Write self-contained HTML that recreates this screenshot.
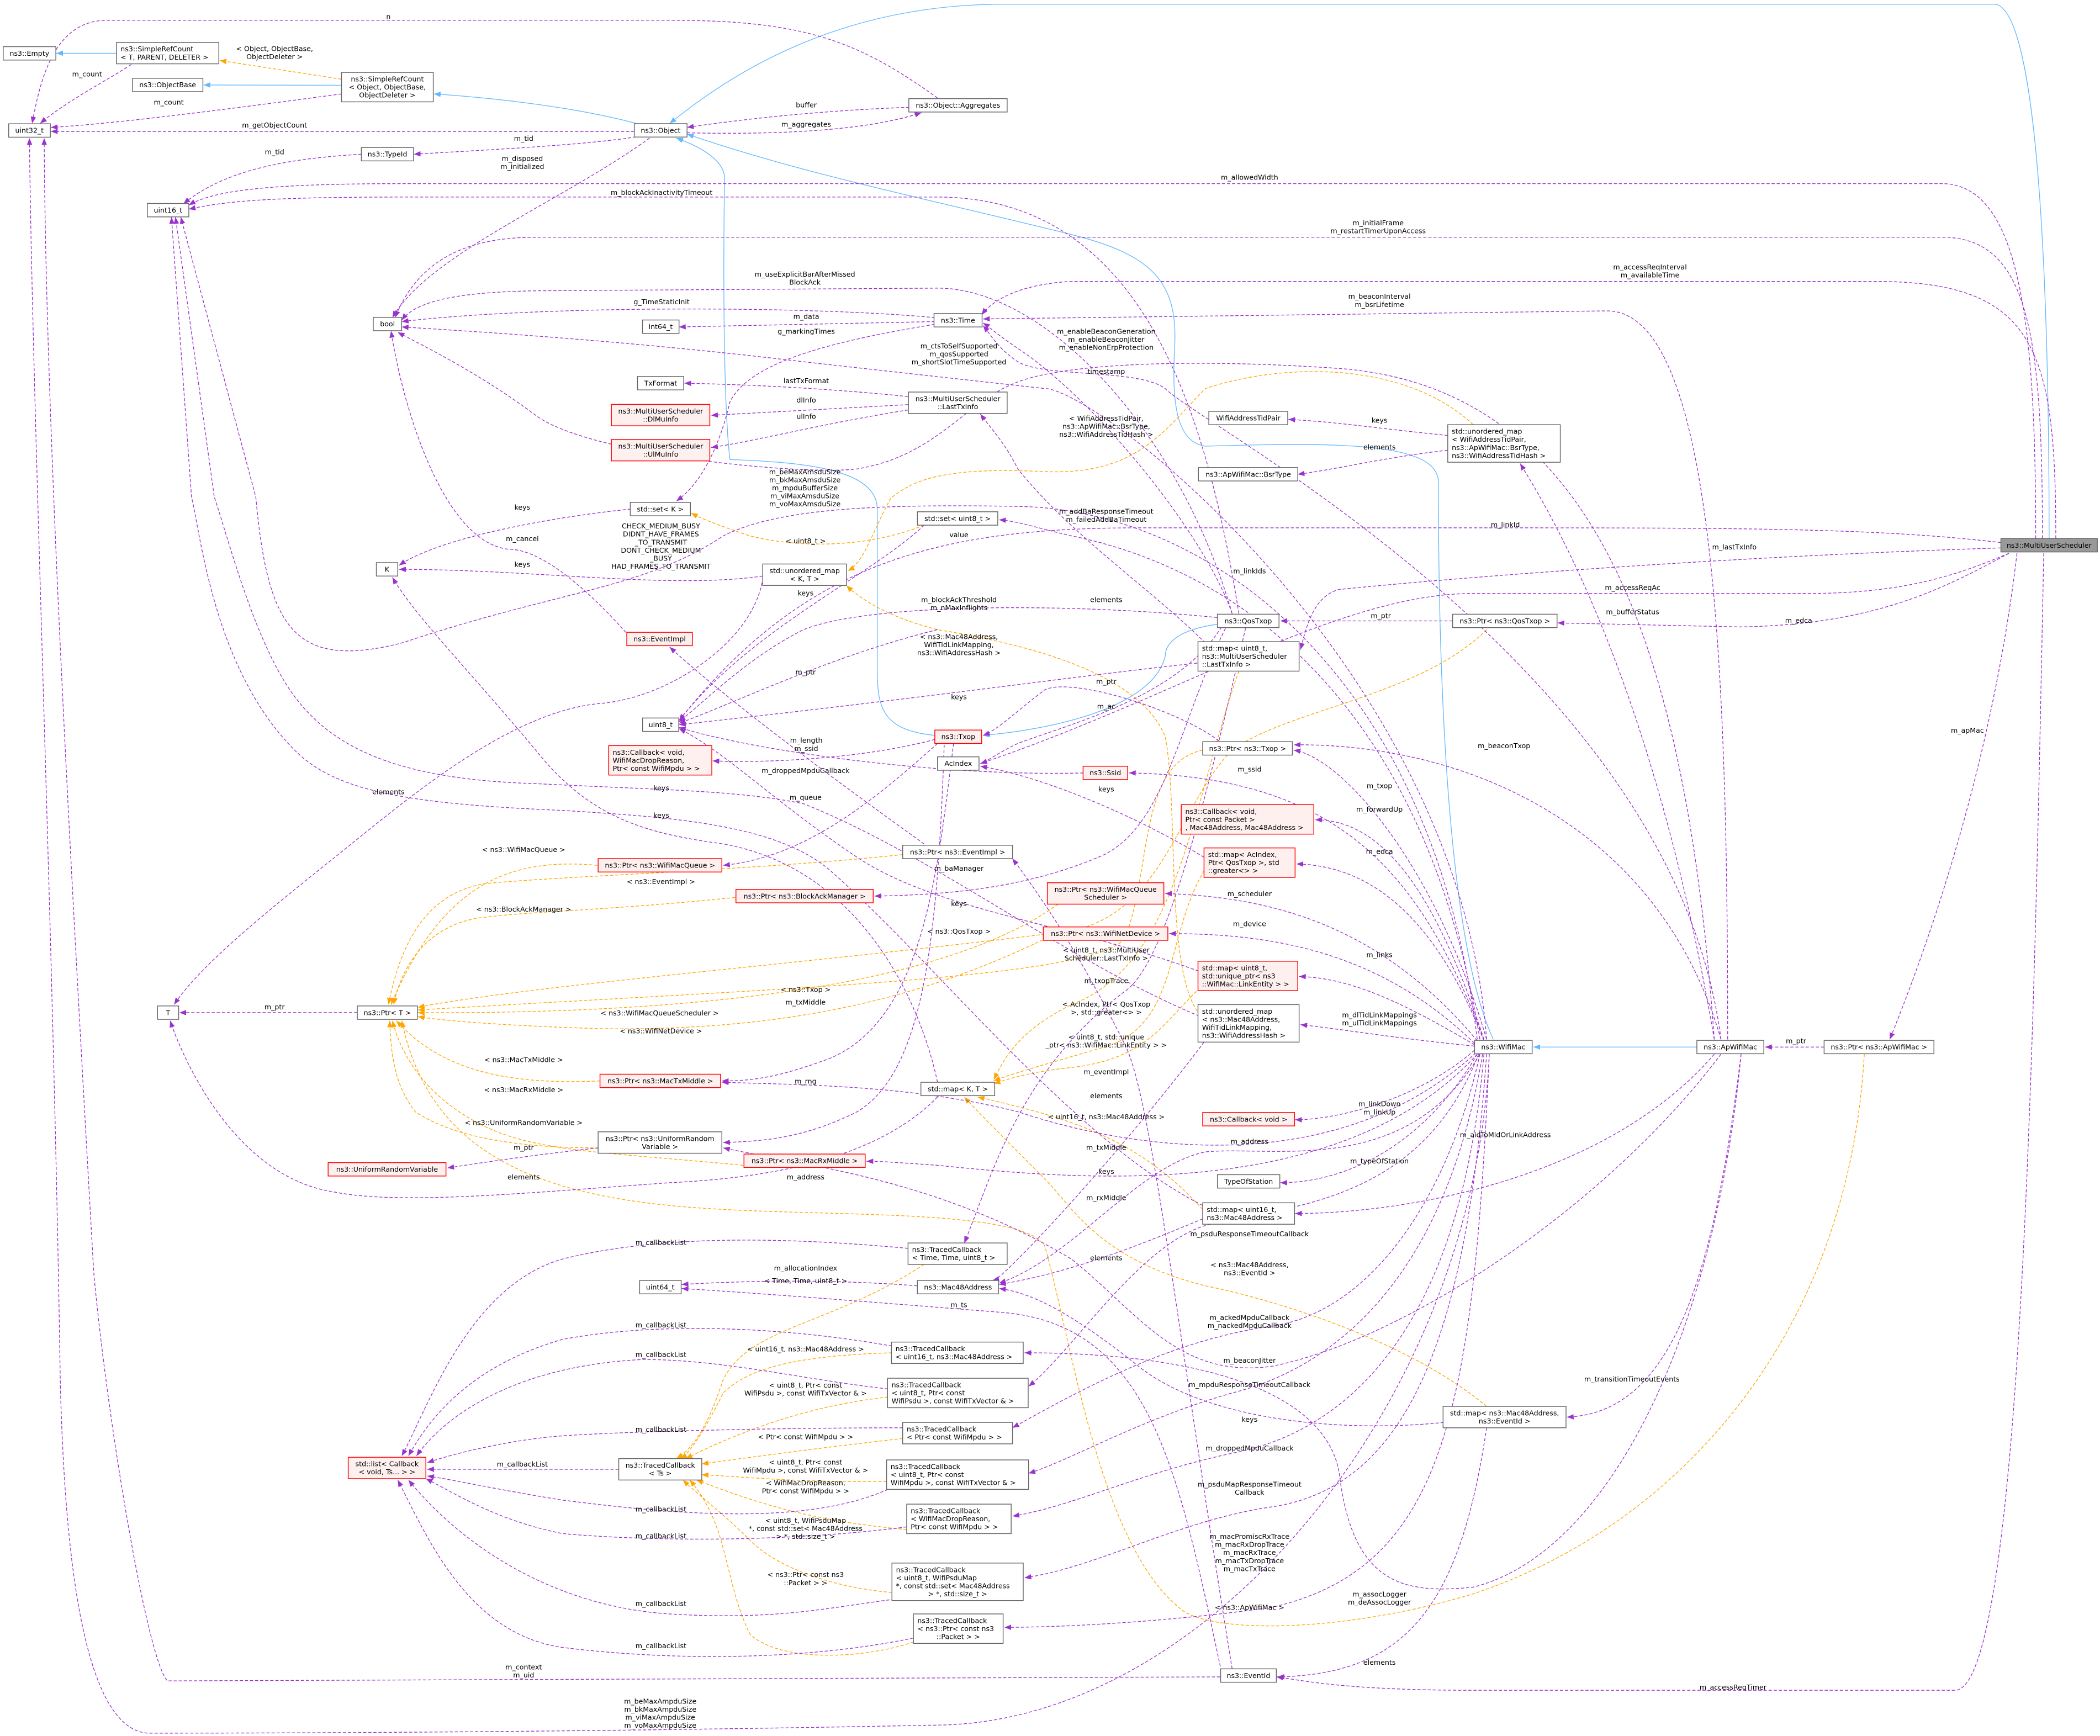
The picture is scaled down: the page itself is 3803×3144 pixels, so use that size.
<!DOCTYPE html>
<html><head><meta charset="utf-8"><style>
html,body{margin:0;padding:0;background:#fff;}
svg{display:block;}
text{font-family:"DejaVu Sans","Liberation Sans",sans-serif;font-size:5.2px;fill:#000;}
.n rect{fill:#fff;stroke:#666;stroke-width:.6;}
.r rect{fill:#fff0f0;stroke:#f00;stroke-width:.6;}
.g rect{fill:#999;stroke:#666;stroke-width:.6;}
.c{text-anchor:middle;}
.p{fill:none;stroke:#9a32cd;stroke-width:.55;stroke-dasharray:2.4,1.4;marker-end:url(#mp);}
.o{fill:none;stroke:#ffa500;stroke-width:.55;stroke-dasharray:2.4,1.4;marker-end:url(#mo);}
.b{fill:none;stroke:#63b8ff;stroke-width:.55;marker-end:url(#mb);}
</style></head><body>
<svg width="3803" height="3144" viewBox="0 0 1568 1296" xmlns="http://www.w3.org/2000/svg">
<defs>
<marker id="mp" markerWidth="5" markerHeight="4" refX="5" refY="2" orient="auto" markerUnits="userSpaceOnUse"><path d="M0,0L5,2L0,4z" fill="#9a32cd"/></marker>
<marker id="mo" markerWidth="5" markerHeight="4" refX="5" refY="2" orient="auto" markerUnits="userSpaceOnUse"><path d="M0,0L5,2L0,4z" fill="#ffa500"/></marker>
<marker id="mb" markerWidth="5" markerHeight="4" refX="5" refY="2" orient="auto" markerUnits="userSpaceOnUse"><path d="M0,0L5,2L0,4z" fill="#63b8ff"/></marker>
</defs>

<path class="b" d="M87,39.6 L42,39.6"/>
<path class="b" d="M255,63.5 L152,63.3"/>
<path class="b" d="M475,92 C430,80 370,73 324,70"/>
<path class="b" d="M1530,402 C1530,300 1528,10 1490,3 L750,3 C620,3 540,60 500,92"/>
<path class="b" d="M1115,776 C1080,700 1074,500 1074,360 C1074,330 1000,330 900,333 C878,330 875,300 877,260 C880,210 860,190 800,175 C700,150 600,130 513,100"/>
<path class="b" d="M698,549 C660,545 655,530 655,500 L655,380 C655,350 600,345 545,343 C540,300 540,200 541,132 C540,120 525,110 505,103"/>
<path class="b" d="M909,466 C880,470 870,480 870,490 C860,530 780,545 734,549"/>
<path class="b" d="M1267,781.7 L1145,781.7"/>

<path class="o" d="M255,59 L164,45"/>
<path class="o" d="M1100,317 C1050,270 960,270 900,290 C870,320 850,355 780,352 C700,348 680,360 665,372 C650,400 645,420 633,426"/>
<path class="o" d="M690,392 C650,408 600,410 560,400 C530,390 522,386 516,383"/>
<path class="o" d="M446,646 C380,640 330,660 292,750"/>
<path class="o" d="M674,638 C560,650 400,655 360,660 C320,668 300,700 290,750"/>
<path class="o" d="M549,670 C450,680 400,680 360,685 C320,690 300,720 294,750"/>
<path class="o" d="M1110,470 C1060,520 960,530 920,560 C880,600 870,680 800,695 C600,720 400,735 312,752"/>
<path class="o" d="M898,560 C850,570 860,650 840,700 C820,730 600,737 312,754"/>
<path class="o" d="M790,675 C700,740 500,757 312,756"/>
<path class="o" d="M782,700 C700,740 600,770 450,768 C380,766 330,762 312,759"/>
<path class="o" d="M448,807 C380,810 330,800 296,762"/>
<path class="o" d="M555,870 C450,860 400,860 360,840 C320,820 300,790 293,762"/>
<path class="o" d="M447,857 C390,857 340,850 310,830 C295,810 292,790 291,762"/>
<path class="o" d="M1392,787 C1380,1000 1250,1140 1100,1190 C1000,1220 900,1220 880,1200 C820,1150 800,1000 780,930 C760,900 600,910 500,900 C400,890 320,860 300,762"/>
<path class="o" d="M925,501 C890,600 880,720 800,750 C760,770 750,790 742,806"/>
<path class="o" d="M899,650 C870,700 880,760 830,780 C780,795 760,800 742,807"/>
<path class="o" d="M899,735 C870,760 860,790 800,797 C770,800 755,805 742,809"/>
<path class="o" d="M898,903 C850,850 800,835 730,819"/>
<path class="o" d="M1110,1050 C1050,1000 950,970 900,960 C820,940 800,900 780,880 C750,850 730,830 720,819"/>
<path class="o" d="M894,755 C870,720 880,600 870,550 C850,500 760,480 700,470 C660,460 640,445 632,437"/>
<path class="o" d="M690,944 C620,990 560,990 540,1030 C530,1060 520,1080 505,1089"/>
<path class="o" d="M666,1010 C600,1012 560,1020 540,1040 C525,1070 515,1085 508,1089"/>
<path class="o" d="M663,1043 C600,1050 550,1070 512,1089"/>
<path class="o" d="M674,1074 C620,1080 560,1088 524,1093"/>
<path class="o" d="M662,1106 C600,1107 560,1103 524,1101"/>
<path class="o" d="M677,1142 C600,1135 560,1120 520,1105"/>
<path class="o" d="M666,1189 C620,1185 580,1170 560,1150 C540,1130 520,1115 510,1105"/>
<path class="o" d="M682,1226 C640,1240 580,1240 560,1220 C540,1180 545,1140 515,1105"/>

<path class="p" d="M700,73 C640,30 600,15 500,15 L80,15 C40,15 30,60 24,92"/>
<path class="p" d="M98,48 C80,60 50,75 30,92"/>
<path class="p" d="M255,70 C180,80 90,92 38,95"/>
<path class="p" d="M473.6,98 L38,98"/>
<path class="p" d="M475,102 C440,108 360,112 309,115"/>
<path class="p" d="M270,115 C220,118 170,125 137,152"/>
<path class="p" d="M485,103 C420,150 320,190 293,237"/>
<path class="p" d="M513,99 C560,100 640,100 688,84"/>
<path class="p" d="M679,80 C620,82 560,88 513,95"/>
<path class="p" d="M1520,402 C1520,250 1510,137 1450,137 L300,137 C200,137 160,142 141,153"/>
<path class="p" d="M925,458 C900,300 850,147 700,147 L300,147 C200,147 170,150 141,156"/>
<path class="p" d="M1525,402 C1525,250 1515,177 1450,177 L400,177 C340,177 310,200 295,237"/>
<path class="p" d="M1535,402 C1535,260 1520,210 1400,210 L800,210 C760,212 740,225 733,235"/>
<path class="p" d="M1290,776 C1290,500 1280,232 1200,232 L734,238"/>
<path class="p" d="M698,237 C600,228 400,228 300,240"/>
<path class="p" d="M698,240 L507,244"/>
<path class="p" d="M698,242 C620,255 560,270 545,300 C538,330 525,360 505,374"/>
<path class="p" d="M920,458 C880,320 780,215 700,215 L400,217 C340,218 310,225 300,239"/>
<path class="p" d="M1110,776 C1090,500 820,290 780,290 L600,270 C500,258 400,250 300,244"/>
<path class="p" d="M1280,776 C1260,500 1200,290 1000,275 C900,268 800,270 760,285 C720,300 700,340 640,350 C600,355 440,340 400,310 C360,280 320,260 297,248"/>
<path class="p" d="M1285,776 C1250,500 900,320 870,290 C850,275 780,282 760,270 C745,260 740,250 734,243"/>
<path class="p" d="M678,296 C620,290 560,287 511,286"/>
<path class="p" d="M678,302 L531,310"/>
<path class="p" d="M678,306 C620,315 560,330 531,334"/>
<path class="p" d="M900,480 C860,440 800,400 760,350 C750,330 740,320 732,309"/>
<path class="p" d="M1494,409 C1300,415 1100,430 1000,440 C980,445 975,470 971,485"/>
<path class="p" d="M1494,405 C1400,394 1300,394 1100,394 L850,394 C700,394 600,420 507,538"/>
<path class="p" d="M1500,413 C1460,430 1420,443 1350,443 L1100,443 C1000,443 880,520 732,570"/>
<path class="p" d="M1500,413 C1450,440 1400,466 1300,468 L1163,465"/>
<path class="p" d="M1506,413 C1490,550 1450,680 1411,776"/>
<path class="p" d="M1526,413 C1520,700 1512,1260 1460,1262 L1100,1262 C1000,1262 970,1254 953,1252"/>
<path class="p" d="M1280,776 C1250,600 1200,450 1135,346"/>
<path class="p" d="M1081,325 C1030,320 1000,315 962,313"/>
<path class="p" d="M1081,336 C1030,342 1000,350 969,354"/>
<path class="p" d="M920,458 C900,400 820,300 760,260 C745,250 740,245 734,241"/>
<path class="p" d="M1105,776 C1060,500 900,420 800,400 C770,393 760,389 746,388"/>
<path class="p" d="M1084.6,463.5 L956,463.5"/>
<path class="p" d="M894,495 C800,505 700,520 507,541"/>
<path class="p" d="M690,392 C650,430 560,470 507,538"/>
<path class="p" d="M909,461 C800,450 650,450 600,470 C560,490 530,520 507,539"/>
<path class="p" d="M910,553 C880,530 800,505 780,515 C760,530 745,545 734,549"/>
<path class="p" d="M912,468 C880,520 800,540 760,555 C745,562 738,568 732,570"/>
<path class="p" d="M700,470 C620,490 560,520 507,540"/>
<path class="p" d="M809,577 C700,580 560,560 507,543"/>
<path class="p" d="M698,552 C650,565 580,570 532,568"/>
<path class="p" d="M700,555 C650,600 600,640 540,646"/>
<path class="p" d="M1108,776 C1060,650 1000,580 843,577"/>
<path class="p" d="M1110,776 C1070,640 1000,565 966,560"/>
<path class="p" d="M1285,776 C1240,620 1100,555 966,556"/>
<path class="p" d="M1108,776 C1070,660 1030,612 982,612"/>
<path class="p" d="M1108,777 C1070,680 1020,646 968,645"/>
<path class="p" d="M899,640 C850,610 780,580 732,572"/>
<path class="p" d="M1103,777 C1030,690 950,670 870,667"/>
<path class="p" d="M1101,779 C1030,710 950,697 873,697"/>
<path class="p" d="M1101,780 C1050,750 1010,730 970,729"/>
<path class="p" d="M1101,781 C1040,775 1000,768 971,765"/>
<path class="p" d="M1101,784 C1060,820 1000,836 967,836"/>
<path class="p" d="M1103,787 C1060,860 1000,883 956,883"/>
<path class="p" d="M1280,787 C1200,880 1050,906 967,906"/>
<path class="p" d="M1105,787 C1050,880 950,855 900,860 C850,870 800,940 746,958"/>
<path class="p" d="M690,630 C620,580 540,520 500,483"/>
<path class="p" d="M470,475 C430,430 400,410 380,410 C330,405 300,300 292,247"/>
<path class="p" d="M471,380 C420,385 330,400 298,422"/>
<path class="p" d="M569.5,430 C500,440 400,425 298,425"/>
<path class="p" d="M569,435 C560,480 500,520 450,525 C380,530 300,600 250,640 C200,680 150,720 130,750"/>
<path class="p" d="M700,808 C690,760 650,650 540,630 C480,622 440,610 400,560 C350,500 310,460 293,431"/>
<path class="p" d="M700,819 C650,870 560,880 500,883 C400,890 300,900 250,890 C180,880 140,800 127,762"/>
<path class="p" d="M266.8,756 L134,756"/>
<path class="p" d="M447,857 C400,862 360,868 334,872"/>
<path class="p" d="M915,469 C880,540 870,620 820,640 C760,665 700,668 653,669"/>
<path class="p" d="M712,555 C700,650 690,760 620,790 C580,805 560,807 539,807"/>
<path class="p" d="M705,556 C700,700 690,800 640,830 C600,850 570,852 540,853"/>
<path class="p" d="M1102,786 C1000,880 850,860 760,830 C680,810 600,810 539,808"/>
<path class="p" d="M1103,787 C1000,900 800,880 700,870 C670,868 660,867 647,867"/>
<path class="p" d="M920,1246 C880,1000 860,820 840,780 C800,700 770,660 756,641"/>
<path class="p" d="M930,469 C900,600 870,720 840,740 C760,800 740,880 720,928"/>
<path class="p" d="M898,910 C850,930 800,950 746,959"/>
<path class="p" d="M899,778 C860,830 800,900 760,940 C750,950 745,955 741,956"/>
<path class="p" d="M1078,1062 C1000,1070 900,1060 850,1020 C800,980 770,965 746,962"/>
<path class="p" d="M1110,1066 C1090,1200 1050,1250 954,1252"/>
<path class="p" d="M1300,787 C1280,950 1250,1055 1170,1058"/>
<path class="p" d="M912,1248 C880,1100 860,990 750,980 C650,972 560,965 509,962"/>
<path class="p" d="M685,960 C620,955 560,956 509,959"/>
<path class="p" d="M911,1252 L125,1255 C110,1240 80,1060 70,950 C50,600 34,300 33,103"/>
<path class="p" d="M1112,787 C1100,1050 900,1286 700,1288 C500,1292 300,1294 110,1294 C60,1290 48,1150 45,1031 C40,700 24,300 22,103"/>
<path class="p" d="M898,900 C800,850 700,720 620,650 C580,615 500,610 420,605 C300,600 250,590 220,560 C160,500 150,400 143,371 L128,162"/>
<path class="p" d="M899,760 C800,720 700,640 600,600 C550,590 500,590 400,585 C300,582 250,560 220,520 C190,480 170,400 160,371 L131,162"/>
<path class="p" d="M1103,776 C1070,500 900,380 760,378 C650,376 580,380 540,400 C480,440 420,440 300,480 C220,500 200,470 191,371 L135,162"/>
<path class="p" d="M895,725 C800,690 700,680 640,640 C580,600 540,560 507,544"/>
<path class="p" d="M678,932 C600,925 500,920 420,940 C350,960 320,1050 300,1087"/>
<path class="p" d="M666,1005 C600,993 500,985 420,1000 C350,1020 320,1060 305,1087"/>
<path class="p" d="M663,1037 C600,1030 540,1015 480,1015 C380,1020 330,1060 311,1087"/>
<path class="p" d="M674,1066 C600,1066 480,1068 420,1072 C380,1075 340,1085 319,1092"/>
<path class="p" d="M462,1097 L319,1097"/>
<path class="p" d="M663,1112 C600,1140 500,1130 420,1120 C370,1112 340,1105 319,1102"/>
<path class="p" d="M677,1140 C600,1150 500,1152 420,1145 C370,1135 340,1115 318,1104"/>
<path class="p" d="M668,1194 C620,1200 580,1210 500,1205 C420,1200 350,1160 305,1105"/>
<path class="p" d="M682,1223 C600,1240 500,1240 420,1230 C350,1220 320,1150 297,1105"/>
<path class="p" d="M1104,787 C1060,900 960,900 900,915 C850,930 800,1010 768,1035"/>
<path class="p" d="M1105,787 C1080,900 1020,980 950,990 C880,1000 820,1030 756,1066"/>
<path class="p" d="M1285,787 C1200,900 1050,1000 950,1020 C880,1030 850,980 800,940 C700,880 600,870 540,857"/>
<path class="p" d="M1107,787 C1080,950 1000,1020 920,1040 C850,1060 800,1090 768,1100"/>
<path class="p" d="M1108,787 C1090,1000 1000,1070 920,1085 C850,1100 800,1125 756,1132"/>
<path class="p" d="M1110,787 C1095,1000 1050,1110 950,1125 C880,1135 820,1170 765,1178"/>
<path class="p" d="M1112,787 C1100,1050 1080,1170 950,1200 C880,1210 800,1215 750,1215"/>
<path class="p" d="M1300,787 C1280,1000 1200,1160 1100,1185 C1050,1190 1010,1185 1000,1100 C990,1040 900,1010 765,1010"/>
<path class="p" d="M1362,781.7 L1318,781.7"/>

<g class="n"><rect x="2.4" y="34.7" width="39.3" height="10"/><text class="c" x="22" y="41.5">ns3::Empty</text></g>
<g class="n"><rect x="87" y="31.5" width="76.4" height="16"/><text x="90" y="38.3">ns3::SimpleRefCount</text><text x="90" y="44.3">&lt; T, PARENT, DELETER &gt;</text></g>
<g class="n"><rect x="99" y="58.3" width="52.5" height="10"/><text class="c" x="125.2" y="65.1">ns3::ObjectBase</text></g>
<g class="n"><rect x="255" y="53.9" width="68.5" height="22"/><text class="c" x="289.2" y="60.7">ns3::SimpleRefCount</text><text class="c" x="289.2" y="66.7">&lt; Object, ObjectBase,</text><text class="c" x="289.2" y="72.7">ObjectDeleter &gt;</text></g>
<g class="n"><rect x="6.5" y="92.3" width="31.1" height="10"/><text class="c" x="22" y="99.1">uint32_t</text></g>
<g class="n"><rect x="473.6" y="92.2" width="39.4" height="10"/><text class="c" x="493.3" y="99">ns3::Object</text></g>
<g class="n"><rect x="678.6" y="73.5" width="73.4" height="10"/><text class="c" x="715.3" y="80.3">ns3::Object::Aggregates</text></g>
<g class="n"><rect x="269.8" y="110" width="39" height="10"/><text class="c" x="289.3" y="116.8">ns3::TypeId</text></g>
<g class="n"><rect x="110" y="151.8" width="31" height="10"/><text class="c" x="125.5" y="158.6">uint16_t</text></g>
<g class="n"><rect x="278.7" y="236.8" width="21.2" height="10"/><text class="c" x="289.3" y="243.6">bool</text></g>
<g class="n"><rect x="479.7" y="238.8" width="27.3" height="10"/><text class="c" x="493.3" y="245.6">int64_t</text></g>
<g class="n"><rect x="697.4" y="234" width="35.9" height="10"/><text class="c" x="715.3" y="240.8">ns3::Time</text></g>
<g class="n"><rect x="476" y="281" width="34.5" height="10"/><text class="c" x="493.3" y="287.8">TxFormat</text></g>
<g class="r"><rect x="456.5" y="301.8" width="73.5" height="16"/><text class="c" x="493.3" y="308.6">ns3::MultiUserScheduler</text><text class="c" x="493.3" y="314.6">::DlMuInfo</text></g>
<g class="r"><rect x="456.5" y="328" width="73.5" height="16"/><text class="c" x="493.3" y="334.8">ns3::MultiUserScheduler</text><text class="c" x="493.3" y="340.8">::UlMuInfo</text></g>
<g class="n"><rect x="678.3" y="292.6" width="73.7" height="16"/><text class="c" x="715.2" y="299.4">ns3::MultiUserScheduler</text><text class="c" x="715.2" y="305.4">::LastTxInfo</text></g>
<g class="n"><rect x="902.6" y="307" width="58.9" height="10"/><text class="c" x="932" y="313.8">WifiAddressTidPair</text></g>
<g class="n"><rect x="1081" y="317" width="84" height="28"/><text x="1084" y="323.8">std::unordered_map</text><text x="1084" y="329.8">&lt; WifiAddressTidPair,</text><text x="1084" y="335.8">ns3::ApWifiMac::BsrType,</text><text x="1084" y="341.8">ns3::WifiAddressTidHash &gt;</text></g>
<g class="n"><rect x="894.8" y="349" width="74.2" height="10"/><text class="c" x="932" y="355.8">ns3::ApWifiMac::BsrType</text></g>
<g class="n"><rect x="470.6" y="375" width="44.9" height="10"/><text class="c" x="493" y="381.8">std::set&lt; K &gt;</text></g>
<g class="n"><rect x="281" y="420" width="16" height="10"/><text class="c" x="289" y="426.8">K</text></g>
<g class="n"><rect x="569.5" y="421" width="62.5" height="16"/><text class="c" x="600.8" y="427.8">std::unordered_map</text><text class="c" x="600.8" y="433.8">&lt; K, T &gt;</text></g>
<g class="n"><rect x="685" y="382" width="60" height="10"/><text class="c" x="715" y="388.8">std::set&lt; uint8_t &gt;</text></g>
<g class="g"><rect x="1494" y="402" width="72" height="10"/><text class="c" x="1530" y="408.8">ns3::MultiUserScheduler</text></g>
<g class="n"><rect x="909" y="458.5" width="46" height="10"/><text class="c" x="932" y="465.3">ns3::QosTxop</text></g>
<g class="n"><rect x="1084.6" y="458.5" width="78" height="10"/><text class="c" x="1123.6" y="465.3">ns3::Ptr&lt; ns3::QosTxop &gt;</text></g>
<g class="n"><rect x="894.5" y="479" width="75.5" height="22"/><text x="897.5" y="485.8">std::map&lt; uint8_t,</text><text x="897.5" y="491.8">ns3::MultiUserScheduler</text><text x="897.5" y="497.8">::LastTxInfo &gt;</text></g>
<g class="r"><rect x="468" y="472" width="49" height="10"/><text class="c" x="492.5" y="478.8">ns3::EventImpl</text></g>
<g class="n"><rect x="479.8" y="536" width="27" height="10"/><text class="c" x="493.3" y="542.8">uint8_t</text></g>
<g class="r"><rect x="698" y="545" width="35" height="10"/><text class="c" x="715.5" y="551.8">ns3::Txop</text></g>
<g class="r"><rect x="454.5" y="556.6" width="77" height="22"/><text x="457.5" y="563.4">ns3::Callback&lt; void,</text><text x="457.5" y="569.4">WifiMacDropReason,</text><text x="457.5" y="575.4">Ptr&lt; const WifiMpdu &gt; &gt;</text></g>
<g class="n"><rect x="700" y="565" width="31" height="10"/><text class="c" x="715.5" y="571.8">AcIndex</text></g>
<g class="r"><rect x="808.7" y="572" width="33.3" height="10"/><text class="c" x="825.3" y="578.8">ns3::Ssid</text></g>
<g class="n"><rect x="898" y="553.7" width="67" height="10"/><text class="c" x="931.5" y="560.5">ns3::Ptr&lt; ns3::Txop &gt;</text></g>
<g class="r"><rect x="882" y="600.7" width="99" height="22"/><text x="885" y="607.5">ns3::Callback&lt; void,</text><text x="885" y="613.5">Ptr&lt; const Packet &gt;</text><text x="885" y="619.5">, Mac48Address, Mac48Address &gt;</text></g>
<g class="n"><rect x="674" y="631" width="82" height="10"/><text class="c" x="715" y="637.8">ns3::Ptr&lt; ns3::EventImpl &gt;</text></g>
<g class="r"><rect x="446.6" y="641" width="92.4" height="10"/><text class="c" x="492.8" y="647.8">ns3::Ptr&lt; ns3::WifiMacQueue &gt;</text></g>
<g class="r"><rect x="899" y="633" width="68" height="22"/><text x="902" y="639.8">std::map&lt; AcIndex,</text><text x="902" y="645.8">Ptr&lt; QosTxop &gt;, std</text><text x="902" y="651.8">::greater&lt;&gt; &gt;</text></g>
<g class="r"><rect x="782" y="659" width="87" height="16"/><text class="c" x="825.5" y="665.8">ns3::Ptr&lt; ns3::WifiMacQueue</text><text class="c" x="825.5" y="671.8">Scheduler &gt;</text></g>
<g class="r"><rect x="549.5" y="664" width="102.5" height="10"/><text class="c" x="600.8" y="670.8">ns3::Ptr&lt; ns3::BlockAckManager &gt;</text></g>
<g class="r"><rect x="779" y="692" width="93" height="10"/><text class="c" x="825.5" y="698.8">ns3::Ptr&lt; ns3::WifiNetDevice &gt;</text></g>
<g class="r"><rect x="894.5" y="717.6" width="74.5" height="22"/><text x="897.5" y="724.4">std::map&lt; uint8_t,</text><text x="897.5" y="730.4">std::unique_ptr&lt; ns3</text><text x="897.5" y="736.4">::WifiMac::LinkEntity &gt; &gt;</text></g>
<g class="n"><rect x="894.5" y="750" width="75.5" height="28"/><text x="897.5" y="756.8">std::unordered_map</text><text x="897.5" y="762.8">&lt; ns3::Mac48Address,</text><text x="897.5" y="768.8">WifiTidLinkMapping,</text><text x="897.5" y="774.8">ns3::WifiAddressHash &gt;</text></g>
<g class="n"><rect x="117.6" y="751" width="15.8" height="10"/><text class="c" x="125.5" y="757.8">T</text></g>
<g class="n"><rect x="266.8" y="751" width="44.8" height="10"/><text class="c" x="289.2" y="757.8">ns3::Ptr&lt; T &gt;</text></g>
<g class="n"><rect x="1101" y="776.7" width="43" height="10"/><text class="c" x="1122.5" y="783.5">ns3::WifiMac</text></g>
<g class="n"><rect x="1267" y="776.7" width="50" height="10"/><text class="c" x="1292" y="783.5">ns3::ApWifiMac</text></g>
<g class="n"><rect x="1362" y="776.7" width="82" height="10"/><text class="c" x="1403" y="783.5">ns3::Ptr&lt; ns3::ApWifiMac &gt;</text></g>
<g class="r"><rect x="448" y="802" width="90" height="10"/><text class="c" x="493" y="808.8">ns3::Ptr&lt; ns3::MacTxMiddle &gt;</text></g>
<g class="n"><rect x="687.6" y="808" width="55.1" height="10"/><text class="c" x="715.2" y="814.8">std::map&lt; K, T &gt;</text></g>
<g class="r"><rect x="898" y="830.6" width="68.6" height="10"/><text class="c" x="932.3" y="837.4">ns3::Callback&lt; void &gt;</text></g>
<g class="n"><rect x="446.6" y="845" width="92.4" height="16"/><text class="c" x="492.8" y="851.8">ns3::Ptr&lt; ns3::UniformRandom</text><text class="c" x="492.8" y="857.8">Variable &gt;</text></g>
<g class="r"><rect x="555.5" y="861.6" width="90.5" height="10"/><text class="c" x="600.8" y="868.4">ns3::Ptr&lt; ns3::MacRxMiddle &gt;</text></g>
<g class="r"><rect x="245" y="868" width="88" height="10"/><text class="c" x="289" y="874.8">ns3::UniformRandomVariable</text></g>
<g class="n"><rect x="909" y="877" width="46.6" height="10"/><text class="c" x="932.3" y="883.8">TypeOfStation</text></g>
<g class="n"><rect x="898" y="898" width="68.6" height="16"/><text x="901" y="904.8">std::map&lt; uint16_t,</text><text x="901" y="910.8">ns3::Mac48Address &gt;</text></g>
<g class="n"><rect x="678" y="928" width="74" height="16"/><text x="681" y="934.8">ns3::TracedCallback</text><text x="681" y="940.8">&lt; Time, Time, uint8_t &gt;</text></g>
<g class="n"><rect x="477.6" y="956" width="31" height="10"/><text class="c" x="493" y="962.8">uint64_t</text></g>
<g class="n"><rect x="685" y="956" width="60.5" height="10"/><text class="c" x="715.3" y="962.8">ns3::Mac48Address</text></g>
<g class="n"><rect x="665.6" y="1002" width="98.4" height="16"/><text x="668.6" y="1008.8">ns3::TracedCallback</text><text x="668.6" y="1014.8">&lt; uint16_t, ns3::Mac48Address &gt;</text></g>
<g class="n"><rect x="662.7" y="1029" width="105" height="22"/><text x="665.7" y="1035.8">ns3::TracedCallback</text><text x="665.7" y="1041.8">&lt; uint8_t, Ptr&lt; const</text><text x="665.7" y="1047.8"> WifiPsdu &gt;, const WifiTxVector &amp; &gt;</text></g>
<g class="n"><rect x="1077.5" y="1050" width="91.8" height="16"/><text class="c" x="1123.4" y="1056.8">std::map&lt; ns3::Mac48Address,</text><text class="c" x="1123.4" y="1062.8">ns3::EventId &gt;</text></g>
<g class="n"><rect x="674" y="1062" width="82" height="16"/><text x="677" y="1068.8">ns3::TracedCallback</text><text x="677" y="1074.8">&lt; Ptr&lt; const WifiMpdu &gt; &gt;</text></g>
<g class="n"><rect x="462" y="1089" width="62" height="16"/><text class="c" x="493" y="1095.8">ns3::TracedCallback</text><text class="c" x="493" y="1101.8">&lt; Ts &gt;</text></g>
<g class="r"><rect x="260" y="1088" width="58" height="16"/><text class="c" x="289" y="1094.8">std::list&lt; Callback</text><text class="c" x="289" y="1100.8">&lt; void, Ts... &gt; &gt;</text></g>
<g class="n"><rect x="662" y="1090" width="106" height="22"/><text x="665" y="1096.8">ns3::TracedCallback</text><text x="665" y="1102.8">&lt; uint8_t, Ptr&lt; const</text><text x="665" y="1108.8"> WifiMpdu &gt;, const WifiTxVector &amp; &gt;</text></g>
<g class="n"><rect x="677" y="1123" width="78" height="22"/><text x="680" y="1129.8">ns3::TracedCallback</text><text x="680" y="1135.8">&lt; WifiMacDropReason,</text><text x="680" y="1141.8"> Ptr&lt; const WifiMpdu &gt; &gt;</text></g>
<g class="n"><rect x="666" y="1167" width="98" height="28"/><text x="669" y="1173.8">ns3::TracedCallback</text><text x="669" y="1179.8">&lt; uint8_t, WifiPsduMap</text><text x="669" y="1185.8"> *, const std::set&lt; Mac48Address</text><text class="c" x="715" y="1191.8">&gt; *, std::size_t &gt;</text></g>
<g class="n"><rect x="682" y="1205" width="67" height="22"/><text x="685" y="1211.8">ns3::TracedCallback</text><text x="685" y="1217.8">&lt; ns3::Ptr&lt; const ns3</text><text class="c" x="715.5" y="1223.8">::Packet &gt; &gt;</text></g>
<g class="n"><rect x="911.4" y="1246" width="41.6" height="10"/><text class="c" x="932.2" y="1252.8">ns3::EventId</text></g>

<g class="c">
<text x="290" y="14">n</text>
<text x="205" y="38">&lt; Object, ObjectBase,</text><text x="205" y="44">ObjectDeleter &gt;</text>
<text x="65" y="57">m_count</text>
<text x="126" y="78">m_count</text>
<text x="205" y="95">m_getObjectCount</text>
<text x="391" y="105">m_tid</text>
<text x="205" y="115">m_tid</text>
<text x="390" y="120">m_disposed</text><text x="390" y="126">m_initialized</text>
<text x="602" y="80">buffer</text>
<text x="602" y="94.5">m_aggregates</text>
<text x="933" y="134">m_allowedWidth</text>
<text x="494" y="145.5">m_blockAckInactivityTimeout</text>
<text x="1029" y="168">m_initialFrame</text><text x="1029" y="174">m_restartTimerUponAccess</text>
<text x="1232" y="201">m_accessReqInterval</text><text x="1232" y="207">m_availableTime</text>
<text x="601" y="206.5">m_useExplicitBarAfterMissed</text><text x="601" y="212.5">BlockAck</text>
<text x="1030" y="223">m_beaconInterval</text><text x="1030" y="229">m_bsrLifetime</text>
<text x="494" y="227">g_TimeStaticInit</text>
<text x="602" y="238">m_data</text>
<text x="602" y="249">g_markingTimes</text>
<text x="826" y="249">m_enableBeaconGeneration</text><text x="826" y="255">m_enableBeaconJitter</text><text x="826" y="261">m_enableNonErpProtection</text>
<text x="716" y="260">m_ctsToSelfSupported</text><text x="716" y="266">m_qosSupported</text><text x="716" y="272">m_shortSlotTimeSupported</text>
<text x="826" y="279">timestamp</text>
<text x="602" y="286">lastTxFormat</text>
<text x="602" y="300.5">dlInfo</text>
<text x="602" y="312.5">ulInfo</text>
<text x="826" y="314">&lt; WifiAddressTidPair,</text><text x="826" y="320">ns3::ApWifiMac::BsrType,</text><text x="826" y="326">ns3::WifiAddressTidHash &gt;</text>
<text x="1030" y="315.5">keys</text>
<text x="1030" y="335.5">elements</text>
<text x="601" y="354">m_beMaxAmsduSize</text><text x="601" y="360">m_bkMaxAmsduSize</text><text x="601" y="366">m_mpduBufferSize</text><text x="601" y="372">m_viMaxAmsduSize</text><text x="601" y="378">m_voMaxAmsduSize</text>
<text x="390" y="380.5">keys</text>
<text x="826" y="383.5">m_addBaResponseTimeout</text><text x="826" y="389.5">m_failedAddBaTimeout</text>
<text x="1124" y="393.5">m_linkId</text>
<text x="493.5" y="394.5">CHECK_MEDIUM_BUSY</text><text x="493.5" y="400.5">DIDNT_HAVE_FRAMES</text><text x="493.5" y="406.5">_TO_TRANSMIT</text><text x="493.5" y="412.5">DONT_CHECK_MEDIUM</text><text x="493.5" y="418.5">_BUSY</text><text x="493.5" y="424.5">HAD_FRAMES_TO_TRANSMIT</text>
<text x="716" y="401">value</text>
<text x="390" y="404">m_cancel</text>
<text x="601.5" y="405.5">&lt; uint8_t &gt;</text>
<text x="1295" y="410">m_lastTxInfo</text>
<text x="390" y="423">keys</text>
<text x="933" y="428">m_linkIds</text>
<text x="1219" y="440.5">m_accessReqAc</text>
<text x="601.5" y="444.5">keys</text>
<text x="716" y="449.5">m_blockAckThreshold</text><text x="716" y="455.5">m_nMaxInflights</text>
<text x="826" y="449.5">elements</text>
<text x="1219" y="458.5">m_bufferStatus</text>
<text x="1031" y="461.5">m_ptr</text>
<text x="1343" y="465">m_edca</text>
<text x="716" y="477">&lt; ns3::Mac48Address,</text><text x="716" y="483">WifiTidLinkMapping,</text><text x="716" y="489">ns3::WifiAddressHash &gt;</text>
<text x="601.5" y="503.5">m_ptr</text>
<text x="826" y="510.5">m_ptr</text>
<text x="716" y="522">keys</text>
<text x="826" y="529">m_ac</text>
<text x="1469" y="547">m_apMac</text>
<text x="602" y="554.5">m_length</text><text x="602" y="560.5">m_ssid</text>
<text x="1123" y="558.5">m_beaconTxop</text>
<text x="933" y="576">m_ssid</text>
<text x="601.5" y="577">m_droppedMpduCallback</text>
<text x="1030" y="588.5">m_txop</text>
<text x="493.8" y="590">keys</text>
<text x="826" y="591">keys</text>
<text x="290" y="593">elements</text>
<text x="601.5" y="597">m_queue</text>
<text x="1030" y="606">m_forwardUp</text>
<text x="493.8" y="610.5">keys</text>
<text x="391" y="636">&lt; ns3::WifiMacQueue &gt;</text>
<text x="1030" y="637.5">m_edca</text>
<text x="716" y="650">m_baManager</text>
<text x="493.5" y="660">&lt; ns3::EventImpl &gt;</text>
<text x="933" y="669">m_scheduler</text>
<text x="716" y="676.5">keys</text>
<text x="391" y="680.5">&lt; ns3::BlockAckManager &gt;</text>
<text x="933" y="691.5">m_device</text>
<text x="716" y="697">&lt; ns3::QosTxop &gt;</text>
<text x="826" y="711">&lt; uint8_t, ns3::MultiUser</text><text x="826" y="717">Scheduler::LastTxInfo &gt;</text>
<text x="1030" y="714.5">m_links</text>
<text x="826" y="734">m_txopTrace</text>
<text x="601.5" y="740.5">&lt; ns3::Txop &gt;</text>
<text x="601.5" y="750">m_txMiddle</text>
<text x="826" y="751.5">&lt; AcIndex, Ptr&lt; QosTxop</text><text x="826" y="757.5">&gt;, std::greater&lt;&gt; &gt;</text>
<text x="205" y="753.5">m_ptr</text>
<text x="492.5" y="758">&lt; ns3::WifiMacQueueScheduler &gt;</text>
<text x="1030" y="759.5">m_dlTidLinkMappings</text><text x="1030" y="765.5">m_ulTidLinkMappings</text>
<text x="493.5" y="771.5">&lt; ns3::WifiNetDevice &gt;</text>
<text x="826" y="776">&lt; uint8_t, std::unique</text><text x="826" y="782">_ptr&lt; ns3::WifiMac::LinkEntity &gt; &gt;</text>
<text x="1341" y="779">m_ptr</text>
<text x="391" y="793">&lt; ns3::MacTxMiddle &gt;</text>
<text x="826" y="802">m_eventImpl</text>
<text x="601.5" y="809">m_rng</text>
<text x="391" y="815.5">&lt; ns3::MacRxMiddle &gt;</text>
<text x="826" y="820">elements</text>
<text x="1030" y="826">m_linkDown</text><text x="1030" y="832">m_linkUp</text>
<text x="826" y="835.5">&lt; uint16_t, ns3::Mac48Address &gt;</text>
<text x="391" y="840">&lt; ns3::UniformRandomVariable &gt;</text>
<text x="1124" y="849">m_aidToMldOrLinkAddress</text>
<text x="933" y="854">m_address</text>
<text x="391" y="858.5">m_ptr</text>
<text x="826" y="858.5">m_txMiddle</text>
<text x="1030" y="868.5">m_typeOfStation</text>
<text x="826" y="876.5">keys</text>
<text x="601.5" y="880.5">m_address</text>
<text x="391" y="880.5">elements</text>
<text x="826" y="896">m_rxMiddle</text>
<text x="933" y="923">m_psduResponseTimeoutCallback</text>
<text x="493.5" y="929.5">m_callbackList</text>
<text x="826" y="941">elements</text>
<text x="933" y="946">&lt; ns3::Mac48Address,</text><text x="933" y="952">ns3::EventId &gt;</text>
<text x="601.5" y="948.5">m_allocationIndex</text>
<text x="601.5" y="958">&lt; Time, Time, uint8_t &gt;</text>
<text x="716" y="976">m_ts</text>
<text x="933" y="985.5">m_ackedMpduCallback</text><text x="933" y="991.5">m_nackedMpduCallback</text>
<text x="493.5" y="991">m_callbackList</text>
<text x="601.5" y="1009">&lt; uint16_t, ns3::Mac48Address &gt;</text>
<text x="493.5" y="1013">m_callbackList</text>
<text x="933" y="1017.5">m_beaconJitter</text>
<text x="1218.5" y="1031.5">m_transitionTimeoutEvents</text>
<text x="933" y="1035.5">m_mpduResponseTimeoutCallback</text>
<text x="601.5" y="1036">&lt; uint8_t, Ptr&lt; const</text><text x="601.5" y="1042">WifiPsdu &gt;, const WifiTxVector &amp; &gt;</text>
<text x="933" y="1061.5">keys</text>
<text x="493.5" y="1069">m_callbackList</text>
<text x="601.5" y="1074.5">&lt; Ptr&lt; const WifiMpdu &gt; &gt;</text>
<text x="933" y="1083">m_droppedMpduCallback</text>
<text x="601.5" y="1093.5">&lt; uint8_t, Ptr&lt; const</text><text x="601.5" y="1099.5">WifiMpdu &gt;, const WifiTxVector &amp; &gt;</text>
<text x="390" y="1095">m_callbackList</text>
<text x="601.5" y="1109">&lt; WifiMacDropReason,</text><text x="601.5" y="1115">Ptr&lt; const WifiMpdu &gt; &gt;</text>
<text x="933" y="1110">m_psduMapResponseTimeout</text><text x="933" y="1116">Callback</text>
<text x="493.5" y="1128.5">m_callbackList</text>
<text x="601.5" y="1137">&lt; uint8_t, WifiPsduMap</text><text x="601.5" y="1143">*, const std::set&lt; Mac48Address</text><text x="601.5" y="1149">&gt; *, std::size_t &gt;</text>
<text x="493.5" y="1148.5">m_callbackList</text>
<text x="933" y="1149">m_macPromiscRxTrace</text><text x="933" y="1155">m_macRxDropTrace</text><text x="933" y="1161">m_macRxTrace</text><text x="933" y="1167">m_macTxDropTrace</text><text x="933" y="1173">m_macTxTrace</text>
<text x="601.5" y="1177.5">&lt; ns3::Ptr&lt; const ns3</text><text x="601.5" y="1183.5">::Packet &gt; &gt;</text>
<text x="1030" y="1192">m_assocLogger</text><text x="1030" y="1198">m_deAssocLogger</text>
<text x="493.5" y="1199">m_callbackList</text>
<text x="933" y="1202">&lt; ns3::ApWifiMac &gt;</text>
<text x="493.5" y="1230.5">m_callbackList</text>
<text x="1030" y="1243">elements</text>
<text x="391" y="1246.5">m_context</text><text x="391" y="1252.5">m_uid</text>
<text x="1294" y="1261.5">m_accessReqTimer</text>
<text x="493" y="1272">m_beMaxAmpduSize</text><text x="493" y="1278">m_bkMaxAmpduSize</text><text x="493" y="1284">m_viMaxAmpduSize</text><text x="493" y="1290">m_voMaxAmpduSize</text>
</g>
</svg>
</body></html>
